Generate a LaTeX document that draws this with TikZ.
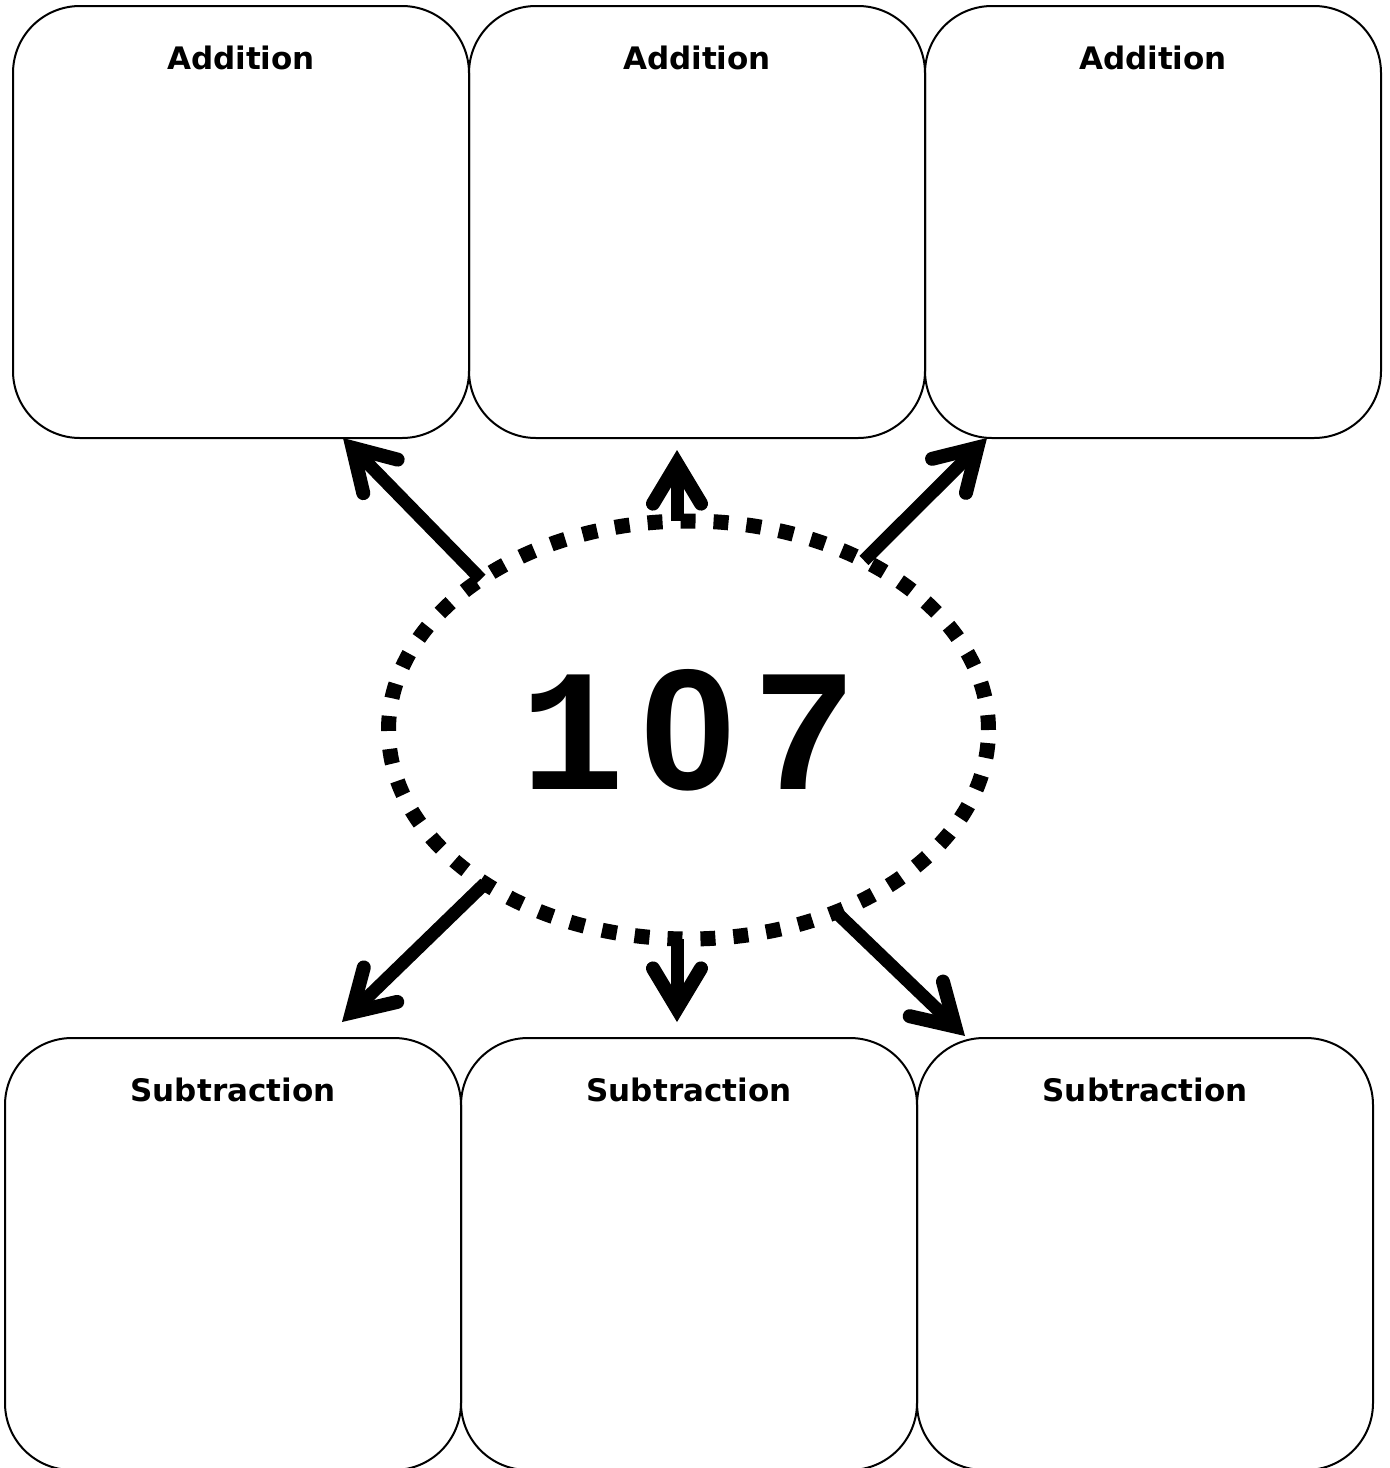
\documentclass[tikz,border=0pt]{standalone}
\usepackage{fontspec}
\setmainfont{DejaVu Sans}
\newfontfamily\monofnt{Liberation Mono}
\newfontfamily\arialfnt{Liberation Sans}
\usetikzlibrary{arrows.meta,shapes.geometric,calc}
\begin{document}
\begin{tikzpicture}[x=1pt,y=-1pt,
  box/.style={draw, line width=2pt, rounded corners=67pt, minimum width=456pt, minimum height=432pt, inner sep=0pt, outer sep=0pt},
  boxtitle/.style={font=\bfseries\fontsize{31}{36}\selectfont, inner sep=0pt, anchor=center},
  conn/.style={line width=13pt, -{Straight Barb[length=40pt, width=48pt, line width=1pt 1, line cap=round, line join=miter]}},
  bigell/.style={ellipse, draw, line width=15pt, dash pattern=on 15pt off 18pt, minimum width=600pt, minimum height=418pt, inner sep=0pt, outer sep=0pt, font=\bfseries}]
\useasboundingbox (0,0) rectangle (1390,1468);
\node[box] (box1) at (241,222) {};
\node[box] (box2) at (697,222) {};
\node[box] (box3) at (1153,222) {};
\node[box] (box4) at (233,1254) {};
\node[box] (box5) at (689,1254) {};
\node[box] (box6) at (1145,1254) {};
\node[boxtitle] (t1) at (241,58) {Addition};
\node[boxtitle] (t2) at (697,58) {Addition};
\node[boxtitle] (t3) at (1153,58) {Addition};
\node[boxtitle] (t4) at (233,1090) {Subtraction};
\node[boxtitle] (t5) at (689,1090) {Subtraction};
\node[boxtitle] (t6) at (1145,1090) {Subtraction};
\node[bigell] (ell) at (688.5,730) {{\monofnt\fontsize{174}{180}\selectfont 1}\hspace{16pt}{\arialfnt\fontsize{172}{180}\selectfont 0}\hspace{16pt}{\monofnt\fontsize{174}{180}\selectfont 7}};
\draw[conn] (ell.144) -- ($(box1.south)+(102,0)$);
\draw[conn] ($(ell.north)+(-11.5,0)$) -- ($(box2.south)+(-20,12)$);
\draw[conn] (ell.44) -- ($(box3.south west)+(62,0)$);
\draw[conn] (ell.217) -- ($(box4.north)+(109,-16)$);
\draw[conn] ($(ell.south)+(-11.5,0)$) -- ($(box5.north)+(-12,-16)$);
\draw[conn] (ell.-51) -- ($(box6.north west)+(48,-2)$);
\end{tikzpicture}
\end{document}
